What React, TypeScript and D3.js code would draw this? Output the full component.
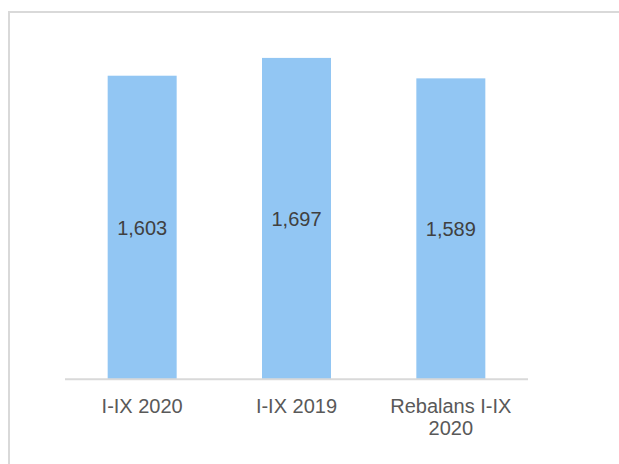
import { useEffect, useRef } from 'react';
import * as d3 from 'd3';

const categories = ['I-IX 2020', 'I-IX 2019', 'Rebalans I-IX 2020'];
const values = [1603, 1697, 1589];
const valueLabels = ['1,603', '1,697', '1,589'];

export default function App() {
  const ref = useRef<HTMLDivElement | null>(null);

  useEffect(() => {
    const el = ref.current;
    if (!el) return;
    el.innerHTML = '';

    const w = 619;
    const h = 464;
    const font = '"Liberation Sans", Arial, sans-serif';

    const svg = d3.select(el)
      .append('svg')
      .attr('width', w)
      .attr('height', h)
      .style('position', 'absolute')
      .style('left', '0px')
      .style('top', '0px')
      .style('font-family', font);

    // frame (runs off the right and bottom edges)
    svg.append('rect')
      .attr('x', 9).attr('y', 12)
      .attr('width', w + 20).attr('height', h + 20)
      .attr('fill', '#fff')
      .attr('stroke', '#d9d9d9')
      .attr('stroke-width', 2);

    const x = d3.scaleBand<string>()
      .domain(categories)
      .range([65, 528])
      .paddingInner(0.553)
      .paddingOuter(0.2765);

    const y = d3.scaleLinear()
      .domain([0, 1800])
      .range([379.3, 38.4]);

    const data = categories.map((c, i) => ({ c, v: values[i], label: valueLabels[i] }));

    // bars
    svg.append('g')
      .selectAll('rect')
      .data(data)
      .join('rect')
      .attr('x', d => x(d.c)!)
      .attr('y', d => y(d.v))
      .attr('width', x.bandwidth())
      .attr('height', d => y(0) - y(d.v))
      .attr('fill', '#92c6f3');

    // baseline
    svg.append('line')
      .attr('x1', x.range()[0]).attr('x2', x.range()[1])
      .attr('y1', y(0)).attr('y2', y(0))
      .attr('stroke', '#d9d9d9')
      .attr('stroke-width', 2);

    // value labels, centred in the bar
    svg.append('g')
      .selectAll('text')
      .data(data)
      .join('text')
      .attr('x', d => x(d.c)! + x.bandwidth() / 2)
      .attr('y', d => (y(d.v) + y(0)) / 2)
      .attr('dy', '0.36em')
      .attr('text-anchor', 'middle')
      .attr('font-size', 20)
      .attr('fill', '#404040')
      .text(d => d.label);

    // category labels, wrapped to the band step
    const step = x.step();
    const cats = svg.append('g')
      .selectAll('text')
      .data(categories)
      .join('text')
      .attr('text-anchor', 'middle')
      .attr('font-size', 20)
      .attr('fill', '#595959');

    cats.each(function (c) {
      const t = d3.select(this);
      const cx = x(c)! + x.bandwidth() / 2;
      const words = c.split(' ');
      let line: string[] = [];
      let n = 0;
      let ts = t.append('tspan').attr('x', cx).attr('y', 412.7);
      for (const word of words) {
        line.push(word);
        ts.text(line.join(' '));
        if ((ts.node() as SVGTextContentElement).getComputedTextLength() > step && line.length > 1) {
          line.pop();
          ts.text(line.join(' '));
          line = [word];
          n += 1;
          ts = t.append('tspan').attr('x', cx).attr('y', 412.7 + n * 22.5).text(word);
        }
      }
    });
  }, []);

  return <div ref={ref} />;
}
